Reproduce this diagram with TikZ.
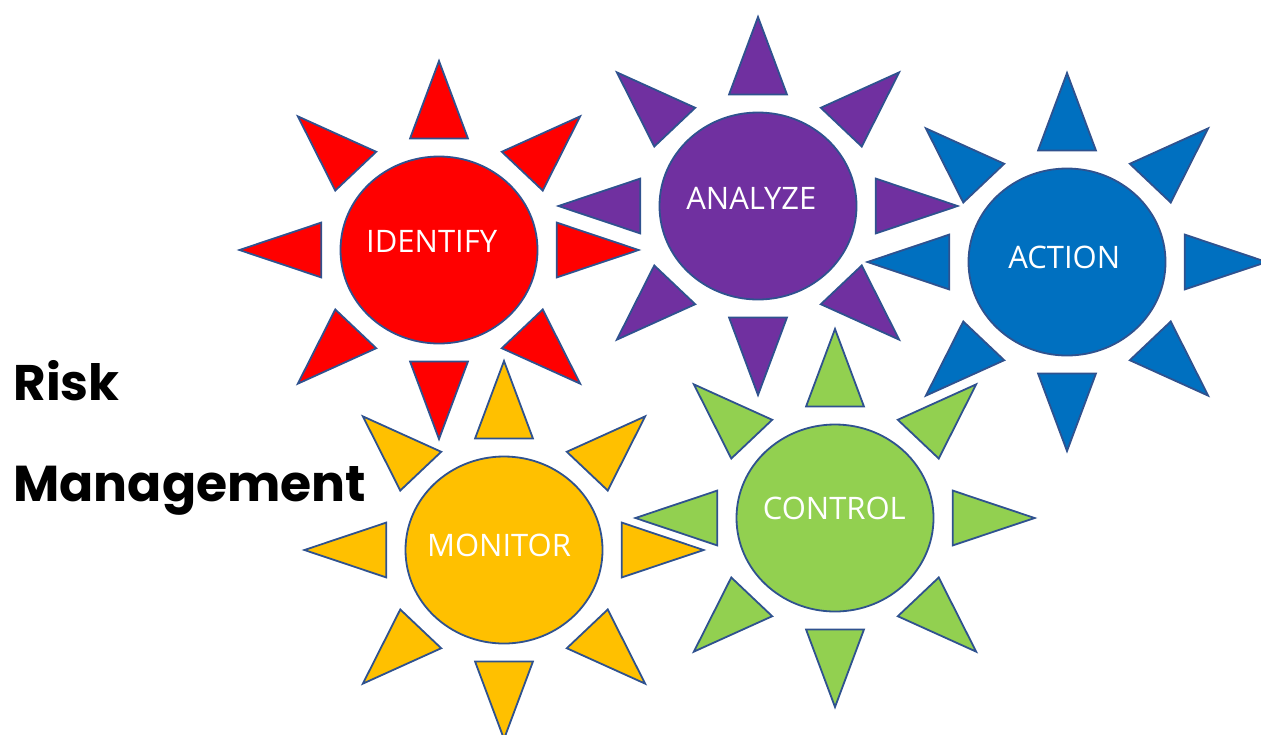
\documentclass[tikz,border=0pt]{standalone}
\usepackage{fontspec}
\setmainfont{Open Sans}
\newfontfamily\riskfont{Poppins}
\usetikzlibrary{shapes.geometric}
\definecolor{oline}{HTML}{2F528F}
\definecolor{cred}{HTML}{FF0000}
\definecolor{cpurple}{HTML}{7030A0}
\definecolor{cblue}{HTML}{0070C0}
\definecolor{cgreen}{HTML}{92D050}
\definecolor{cgold}{HTML}{FFC000}
\tikzset{
  disc/.style={ellipse, draw=oline, line width=0.9pt, fill=#1,
    minimum width=98.5pt, minimum height=93.5pt, inner sep=0pt},
  ray/.style={draw=oline, line width=0.9pt, fill=#1, line join=miter},
  lbl/.style={text=white, font=\fontsize{15.5}{18}\selectfont, inner sep=0pt},
  titletext/.style={font=\riskfont\bfseries\fontsize{#1}{30}\selectfont,
    anchor=base west, inner sep=0pt, text=black}
}
\newcommand\sunrays[3]{%
  \begin{scope}[shift={(#1,#2)}, xscale=199.6, yscale=189]
    \foreach \a in {0,45,...,315}
      \draw[ray=#3, rotate=\a] (0.59,-0.145) -- (1,0) -- (0.59,0.145) -- cycle;
  \end{scope}}
\begin{document}
\begin{tikzpicture}[x=0.5pt, y=-0.5pt]
  \useasboundingbox (0,0) rectangle (1261,734);
  % IDENTIFY
  \sunrays{439}{250}{cred}
  \node[disc=cred] (identify) at (439,250) {};
  \node[lbl] (identify-t) at (431.7,241.3) {IDENTIFY};
  % ANALYZE
  \sunrays{758}{206}{cpurple}
  \node[disc=cpurple] (analyze) at (758,206) {};
  \node[lbl] (analyze-t) at (751.3,198) {ANALYZE};
  % ACTION
  \sunrays{1067}{262}{cblue}
  \node[disc=cblue] (action) at (1067,262) {};
  \node[lbl] (action-t) at (1064.3,257) {ACTION};
  % MONITOR
  \sunrays{504}{550}{cgold}
  \node[disc=cgold] (monitor) at (504,550) {};
  \node[lbl] (monitor-t) at (499,545.5) {MONITOR};
  % CONTROL
  \sunrays{835}{518}{cgreen}
  \node[disc=cgreen] (control) at (835,518) {};
  \node[lbl] (control-t) at (834.3,508.8) {CONTROL};
  % title
  \node[titletext=25] (risk) at (13,400) {Risk};
  \node[titletext=25.2] (mgmt) at (13,501) {Management};
\end{tikzpicture}
\end{document}
